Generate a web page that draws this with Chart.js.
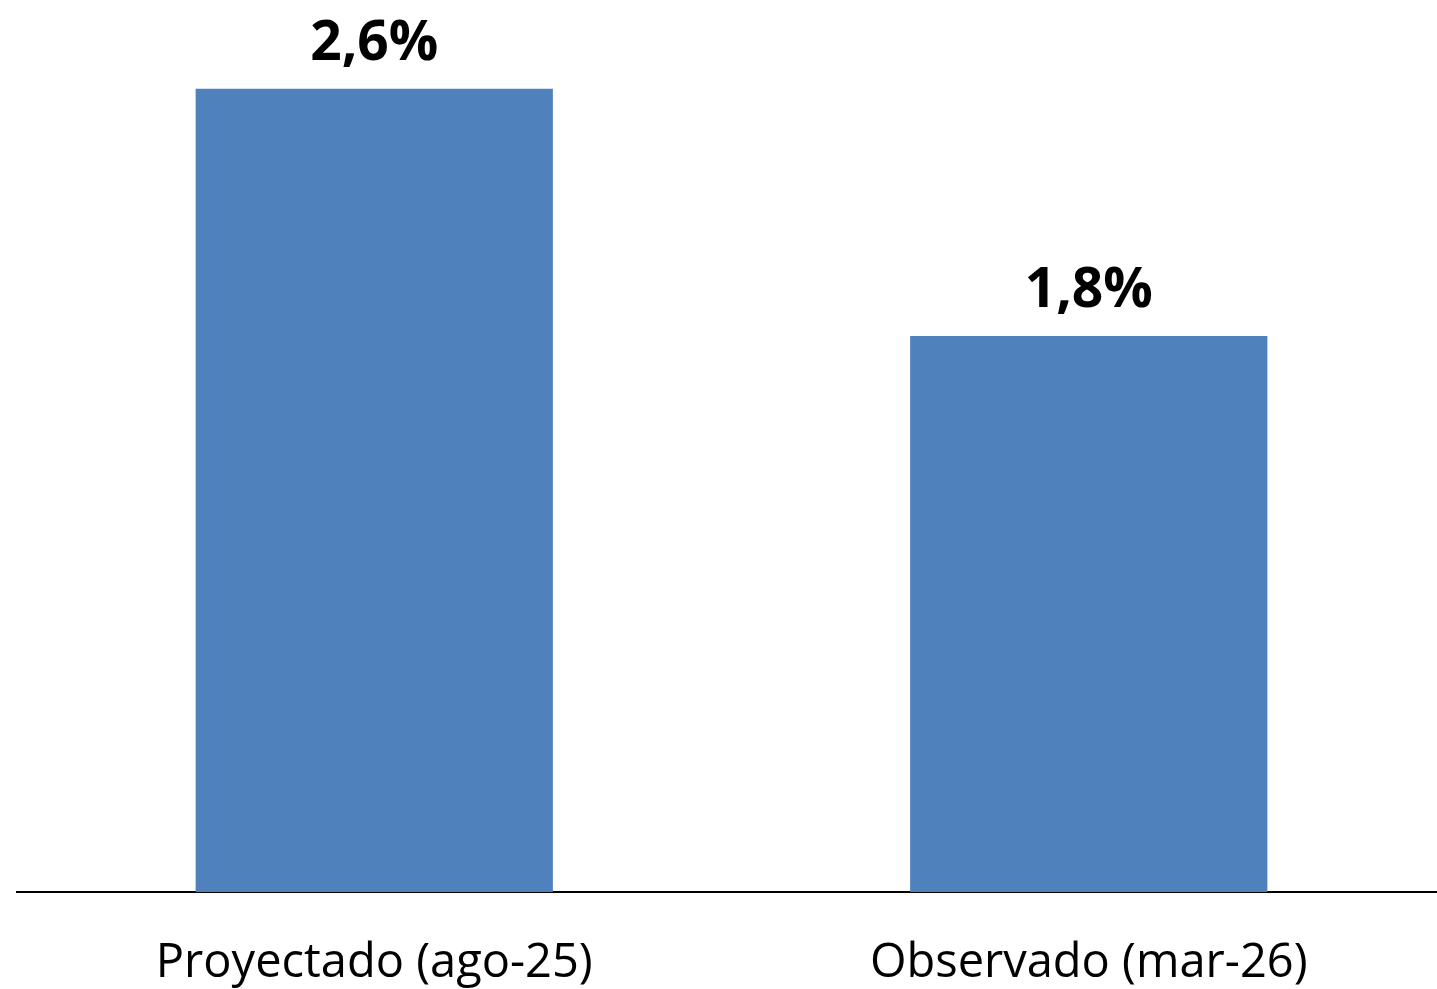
<!DOCTYPE html>
<html>
<head>
<meta charset="utf-8">
<script src="https://cdn.jsdelivr.net/npm/chart.js@4"></script>
<style>
  html, body { margin: 0; padding: 0; background: #fff; overflow: hidden; }
  #wrap { width: 1446px; height: 989px; }
</style>
</head>
<body>
<div id="wrap"><canvas id="barChart"></canvas></div>
<script>
const categories = ["Proyectado (ago-25)", "Observado (mar-26)"];
const values = [2.6, 1.8];
const valueLabels = ["2,6%", "1,8%"];

// draws the bold value text above each bar
const barLabels = {
  id: "barLabels",
  afterDatasetsDraw(chart) {
    const ctx = chart.ctx;
    const meta = chart.getDatasetMeta(0);
    ctx.save();
    ctx.font = "bold 55px 'Open Sans', 'Liberation Sans', sans-serif";
    ctx.fillStyle = "#000";
    ctx.textAlign = "center";
    ctx.textBaseline = "alphabetic";
    meta.data.forEach((bar, i) => {
      ctx.fillText(valueLabels[i], bar.x, bar.y - 29);
    });
    ctx.restore();
  }
};

const ctx = document.getElementById("barChart").getContext("2d");

new Chart(ctx, {
  type: "bar",
  data: {
    labels: categories,
    datasets: [{
      data: values,
      backgroundColor: "#4f81bd",
      barPercentage: 0.5,
      categoryPercentage: 1
    }]
  },
  options: {
    responsive: true,
    maintainAspectRatio: false,
    animation: false,
    layout: { padding: { left: 17, right: 0, top: 27, bottom: 0 } },
    plugins: {
      legend: { display: false },
      tooltip: { enabled: false }
    },
    scales: {
      y: {
        display: false,
        min: 0,
        max: 2.8
      },
      x: {
        afterFit(scale) { scale.height = 97; },
        grid: { display: false, drawTicks: false },
        border: { display: true, color: "#000", width: 2 },
        ticks: {
          color: "#000",
          padding: 43,
          font: { family: "'Open Sans', 'Liberation Sans', sans-serif", size: 47 }
        }
      }
    }
  },
  plugins: [barLabels]
});
</script>
</body>
</html>
